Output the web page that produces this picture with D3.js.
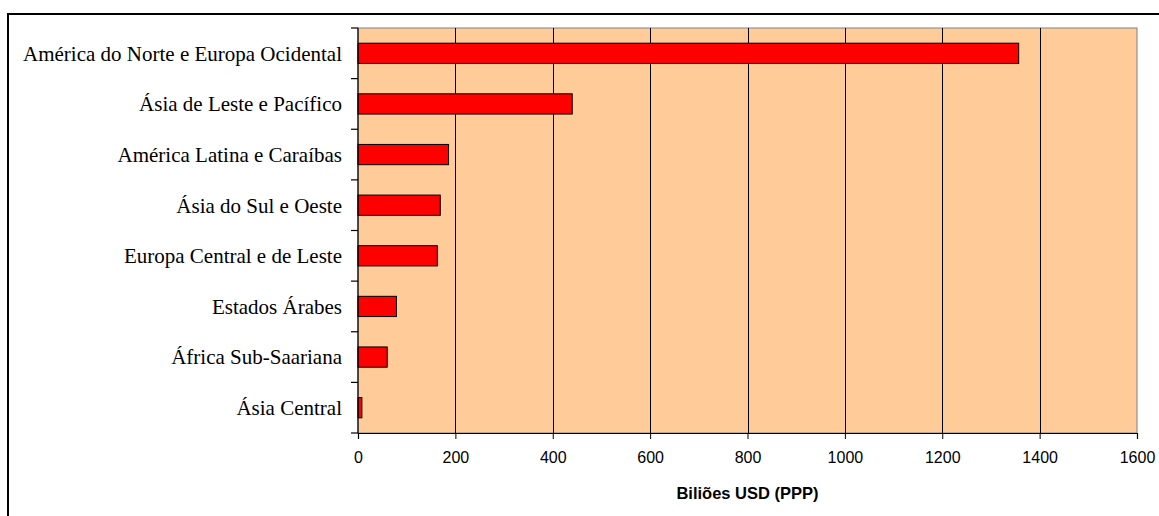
<!DOCTYPE html>
<html>
<head>
<meta charset="utf-8">
<script src="https://cdn.jsdelivr.net/npm/d3@7"></script>
<style>
  html, body { margin: 0; padding: 0; background: #fff; }
  svg { display: block; }
</style>
</head>
<body>
<svg id="chart" width="1159" height="516"></svg>
<script>
const categories = [
  "América do Norte e Europa Ocidental",
  "Ásia de Leste e Pacífico",
  "América Latina e Caraíbas",
  "Ásia do Sul e Oeste",
  "Europa Central e de Leste",
  "Estados Árabes",
  "África Sub-Saariana",
  "Ásia Central"
];
const values = [1357, 440, 186, 169, 163, 79, 60, 8];
const xTicks = [0, 200, 400, 600, 800, 1000, 1200, 1400, 1600];
const xTitle = "Biliões USD (PPP)";

const svg = d3.select("#chart");
const W = 1159, H = 516;
const plot = { left: 358, right: 1137, top: 28, bottom: 433 };

// outer frame (only top and left visible)
svg.append("line").attr("x1", 8).attr("x2", W + 5).attr("y1", 14).attr("y2", 14)
  .attr("stroke", "#000").attr("stroke-width", 2);
svg.append("line").attr("x1", 8).attr("x2", 8).attr("y1", 13).attr("y2", H + 5)
  .attr("stroke", "#000").attr("stroke-width", 2);

const x = d3.scaleLinear().domain([0, 1600]).range([plot.left, plot.right]);
const y = d3.scaleBand().domain(categories).range([plot.top, plot.bottom])
  .paddingInner(0.6).paddingOuter(0.3);

// plot background
svg.append("rect")
  .attr("x", plot.left).attr("y", plot.top)
  .attr("width", plot.right - plot.left).attr("height", plot.bottom - plot.top)
  .attr("fill", "#FFCC99").attr("stroke", "#808080").attr("stroke-width", 1);

// gridlines
svg.append("g").selectAll("line")
  .data(xTicks.filter(d => d > 0 && d < 1600))
  .join("line")
  .attr("x1", d => Math.round(x(d)) + 0.5).attr("x2", d => Math.round(x(d)) + 0.5)
  .attr("y1", plot.top).attr("y2", plot.bottom)
  .attr("stroke", "#000").attr("stroke-width", 1);

// bars
svg.append("g").selectAll("rect")
  .data(categories)
  .join("rect")
  .attr("x", x(0))
  .attr("y", d => y(d))
  .attr("width", (d, i) => x(values[i]) - x(0))
  .attr("height", y.bandwidth())
  .attr("fill", "#FF0000")
  .attr("stroke", "#000").attr("stroke-width", 1);

// x axis
const xAxis = d3.axisBottom(x).tickValues(xTicks).tickSize(6).tickPadding(13)
  .tickFormat(d3.format("d"));
const gx = svg.append("g").attr("transform", `translate(0,${plot.bottom})`).call(xAxis);
gx.select(".domain").attr("stroke", "#000").attr("stroke-width", 1.2);
gx.selectAll(".tick line").attr("stroke", "#000");
gx.selectAll(".tick text")
  .attr("font-family", "Liberation Sans, Arial, sans-serif")
  .attr("font-size", 16).attr("fill", "#000");

// y axis line + ticks at band boundaries
svg.append("line").attr("x1", plot.left).attr("x2", plot.left)
  .attr("y1", plot.top).attr("y2", plot.bottom)
  .attr("stroke", "#000").attr("stroke-width", 1.2);
const bounds = d3.range(categories.length + 1).map(i => plot.top + i * y.step());
svg.append("g").selectAll("line")
  .data(bounds)
  .join("line")
  .attr("x1", plot.left - 7).attr("x2", plot.left)
  .attr("y1", d => d).attr("y2", d => d)
  .attr("stroke", "#000").attr("stroke-width", 1.2);

// y labels
svg.append("g").selectAll("text")
  .data(categories)
  .join("text")
  .attr("x", plot.left - 16)
  .attr("y", d => y(d) + y.bandwidth() / 2)
  .attr("dy", "0.35em")
  .attr("text-anchor", "end")
  .attr("font-family", "Liberation Serif, Times New Roman, serif")
  .attr("font-size", 21)
  .attr("fill", "#000")
  .text(d => d);

// x title
svg.append("text")
  .attr("x", (plot.left + plot.right) / 2)
  .attr("y", 499)
  .attr("text-anchor", "middle")
  .attr("font-family", "Liberation Sans, Arial, sans-serif")
  .attr("font-weight", "bold")
  .attr("font-size", 16.5)
  .attr("fill", "#000")
  .text(xTitle);
</script>
</body>
</html>
